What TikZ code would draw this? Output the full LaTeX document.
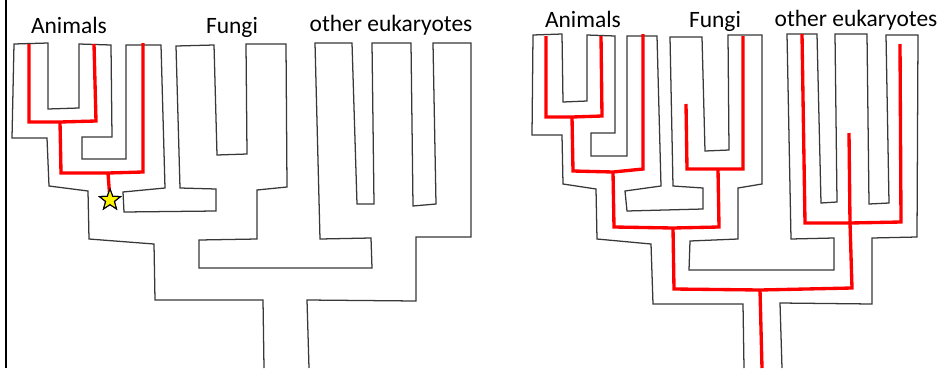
\documentclass[tikz,border=0pt]{standalone}
\usepackage{fontspec}
\setmainfont{Carlito}
\usetikzlibrary{shapes.geometric}
\begin{document}
\begin{tikzpicture}[x=0.75pt,y=-0.75pt,
  outline/.style={draw=black!78,line width=0.95pt,line join=miter},
  lineage/.style={draw=red,line width=2.5pt,line join=miter},
  label/.style={font=\fontsize{17.6}{20}\selectfont,anchor=base,inner sep=0pt},
  origin/.style={star,star points=5,star point ratio=2.4,minimum size=16.5pt,inner sep=0pt,draw=black,line width=0.8pt,fill=yellow}]
\useasboundingbox (0,0) rectangle (942,368);
\draw[line width=1.9pt] (6,0) -- (6,368);
% ---------------- left tree ----------------
\node[label] (la) at (69,33) {Animals};
\node[label] (lf) at (232,33) {Fungi};
\node[label] (le) at (391,31) {other eukaryotes};
\draw[outline] (264,368) -- (263,300) -- (155,300) -- (154,244) -- (89,239) -- (88,191) -- (49,186) -- (47,138) -- (12,138) -- (14,44) -- (48,43) -- (48,109) -- (79,108) -- (79,44) -- (111,45) -- (112,137) -- (82,137) -- (82,159) -- (126,159) -- (126,45) -- (161,45) -- (165,188) -- (123,192) -- (124,212) -- (216,211) -- (216,189) -- (180,188) -- (176,46) -- (214,45) -- (217,155) -- (247,154) -- (246,44) -- (286,44) -- (287,187) -- (257,190) -- (257,239) -- (199,240) -- (199,268) -- (372,268) -- (371,238) -- (320,239) -- (315,43) -- (352,43) -- (357,204) -- (374,204) -- (372,43) -- (411,43) -- (413,206) -- (436,204) -- (433,43) -- (471,43) -- (471,237) -- (416,237) -- (416,301) -- (307,300) -- (309,368);
\coordinate (lj1) at (60,122);
\coordinate (lj2) at (108,173);
\draw[lineage] (29,44) -- (29,122) -- (lj1) -- (96,121) -- (94,44);
\draw[lineage] (lj1) -- (61,173) -- (lj2) -- (143,172) -- (143,43);
\node[origin] (st) at (110,200) {};
\draw[lineage] (lj2) -- (st.center);
\node[origin] at (110,200) {};
% ---------------- right tree ----------------
\node[label] (ra) at (583,27) {Animals};
\node[label] (rf) at (715,27) {Fungi};
\node[label] (re) at (856,26) {other eukaryotes};
\draw[outline] (744,368) -- (743,304) -- (653,304) -- (651,244) -- (597,239) -- (596,189) -- (563,184) -- (562,135) -- (532,135) -- (533,35) -- (562,34) -- (563,102) -- (587,101) -- (587,35) -- (615,36) -- (615,133) -- (591,133) -- (591,156) -- (627,156) -- (627,36) -- (657,36) -- (661,186) -- (625,191) -- (627,211) -- (703,209) -- (703,188) -- (673,186) -- (670,37) -- (702,37) -- (705,151) -- (729,150) -- (728,35) -- (762,35) -- (762,184) -- (738,188) -- (738,239) -- (690,241) -- (689,270) -- (834,270) -- (834,238) -- (791,239) -- (787,34) -- (817,34) -- (821,203) -- (837,202) -- (835,34) -- (867,34) -- (869,204) -- (889,203) -- (886,35) -- (918,35) -- (917,237) -- (872,238) -- (872,304) -- (780,303) -- (782,368);
\coordinate (rj1) at (572,117);
\coordinate (rj2) at (613,172);
\coordinate (rj3) at (673,228);
\coordinate (rj4) at (718,169);
\coordinate (rj5) at (760,290);
\coordinate (rj6) at (850,223);
\draw[lineage] (546,36) -- (546,117) -- (rj1) -- (602,116) -- (601,36);
\draw[lineage] (rj1) -- (573,171) -- (rj2) -- (643,169) -- (643,34);
\draw[lineage] (rj2) -- (614,227) -- (rj3) -- (719,227) -- (rj4);
\draw[lineage] (686,104) -- (687,169) -- (rj4) -- (743,169) -- (743,36);
\draw[lineage] (rj3) -- (674,289) -- (rj5) -- (852,288) -- (rj6) -- (849,133);
\draw[lineage] (802,34) -- (805,223) -- (rj6) -- (901,222) -- (900,44);
\draw[lineage] (rj5) -- (762,368);
\end{tikzpicture}
\end{document}
